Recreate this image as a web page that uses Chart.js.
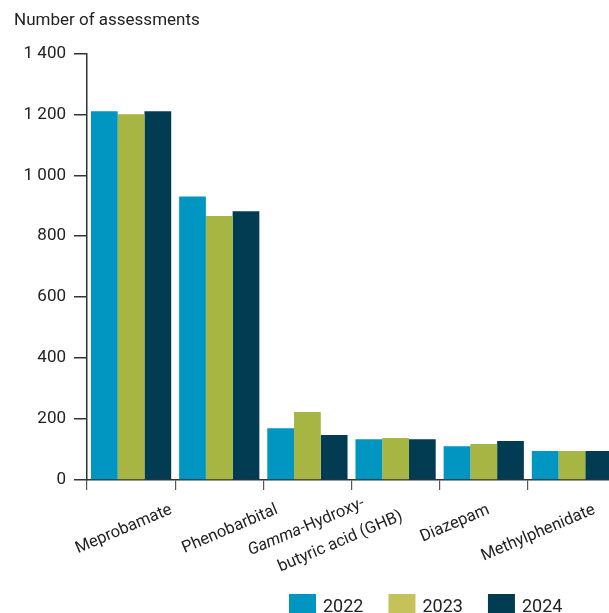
<!DOCTYPE html>
<html>
<head>
<meta charset="utf-8">
<script src="https://cdn.jsdelivr.net/npm/chart.js@4"></script>
<style>
  html, body { margin: 0; padding: 0; background: #fff; overflow: hidden; }
  #wrap { width: 609px; height: 613px; overflow: hidden; }
  #inner { width: 616px; height: 613px; position: relative; }
</style>
</head>
<body>
<div id="wrap"><div id="inner"><canvas id="chart"></canvas></div></div>
<script>
// data
const years = ["2022", "2023", "2024"];
const groups = ["g1", "g2", "g3", "g4", "g5", "g6"];   // six bar groups in the picture
const tickLabels = ["Meprobamate", "Phenobarbital", "Gamma-Hydroxy-\nbutyric acid (GHB)", "Diazepam", "Methylphenidate"];
const italicWords = ["Gamma"];
const values2022 = [1210, 930, 170, 134, 111, 95];
const values2023 = [1200, 866, 223, 138, 118, 95];
const values2024 = [1210, 882, 148, 134, 128, 95];
const yTicks = [0, 200, 400, 600, 800, 1000, 1200, 1400];

const barColors = ["#0096c1", "#a7b542", "#023c52"];
const legendColors = ["#0096c1", "#c5c25a", "#023c52"];
const FONT = "Roboto, 'Liberation Sans', sans-serif";
const TEXT = "#222";

const fmt = v => String(v).replace(/\B(?=(\d{3})+(?!\d))/g, " ");

// rotated category labels, placed on a hidden 5-slot axis
const labelPlugin = {
    id: "rotLabels",
    afterDraw(chart) {
        const ctx = chart.ctx;
        const x2 = chart.scales.x2;
        const base = chart.chartArea.bottom;
        const ang = 23 * Math.PI / 180;
        ctx.save();
        ctx.fillStyle = TEXT;
        ctx.textBaseline = "alphabetic";
        ctx.textAlign = "left";
        tickLabels.forEach((lbl, i) => {
            const cx = x2.getPixelForValue(i);
            const lines = lbl.split("\n");
            lines.forEach((line, j) => {
                const k = j - (lines.length - 1) / 2;
                const ex = cx + 33 + 38 * k;
                const ey = base + 33 + 13 * k;
                // split into italic / regular parts
                const parts = [];
                const it = italicWords.find(w => line.startsWith(w));
                if (it) { parts.push([it, true]); parts.push([line.slice(it.length), false]); }
                else parts.push([line, false]);
                let total = 0;
                parts.forEach(p => {
                    ctx.font = (p[1] ? "italic " : "") + "16.5px " + FONT;
                    p.push(ctx.measureText(p[0]).width);
                    total += p[2];
                });
                ctx.save();
                ctx.translate(ex, ey);
                ctx.rotate(-ang);
                let x = -total;
                parts.forEach(p => {
                    ctx.font = (p[1] ? "italic " : "") + "16.5px " + FONT;
                    ctx.fillText(p[0], x, 0);
                    x += p[2];
                });
                ctx.restore();
            });
        });
        ctx.restore();
    }
};

// legend at the bottom right
const legendPlugin = {
    id: "bottomLegend",
    afterDraw(chart) {
        const ctx = chart.ctx;
        ctx.save();
        ctx.font = "18px " + FONT;
        ctx.textBaseline = "alphabetic";
        let x = 289;
        chart.data.datasets.forEach((ds, i) => {
            ctx.fillStyle = legendColors[i];
            ctx.fillRect(x, 594, 27, 20);
            ctx.fillStyle = TEXT;
            ctx.fillText(ds.label, x + 34, 612);
            x += 34 + ctx.measureText(ds.label).width + 25;
        });
        ctx.restore();
    }
};

const ctx = document.getElementById("chart").getContext("2d");
new Chart(ctx, {
    type: "bar",
    data: {
        labels: groups,
        datasets: [
            { label: years[0], data: values2022, backgroundColor: barColors[0] },
            { label: years[1], data: values2023, backgroundColor: barColors[1] },
            { label: years[2], data: values2024, backgroundColor: barColors[2] }
        ]
    },
    options: {
        responsive: true,
        maintainAspectRatio: false,
        animation: false,
        devicePixelRatio: 1,
        layout: { padding: { left: 14, right: 0, top: 0, bottom: 0 } },
        datasets: { bar: { categoryPercentage: 0.91, barPercentage: 1, borderWidth: 0 } },
        plugins: {
            legend: { display: false },
            tooltip: { enabled: false },
            title: {
                display: true,
                text: "Number of assessments",
                align: "start",
                color: TEXT,
                font: { family: FONT, size: 17, weight: "normal" },
                padding: { top: 11, bottom: 22 }
            }
        },
        scales: {
            x: {
                offset: true,
                grid: { offset: true, drawOnChartArea: false, drawTicks: true, tickLength: 10, color: "#555", lineWidth: 1.2 },
                border: { display: true, color: "#333", width: 1.5 },
                ticks: { display: false },
                afterFit: s => { s.height = 133; }
            },
            x2: {
                type: "category",
                labels: tickLabels,
                position: "bottom",
                offset: true,
                display: false
            },
            y: {
                min: 0,
                max: 1400,
                afterBuildTicks: s => { s.ticks = yTicks.map(v => ({ value: v })); },
                grid: { drawOnChartArea: false, drawTicks: true, tickLength: 13, color: "#333", lineWidth: 1.5 },
                border: { display: true, color: "#333", width: 1.5 },
                ticks: {
                    color: TEXT,
                    padding: 8,
                    font: { family: FONT, size: 17 },
                    callback: v => fmt(v)
                },
                afterFit: s => { s.width = 73; }
            }
        }
    },
    plugins: [labelPlugin, legendPlugin]
});
</script>
</body>
</html>
